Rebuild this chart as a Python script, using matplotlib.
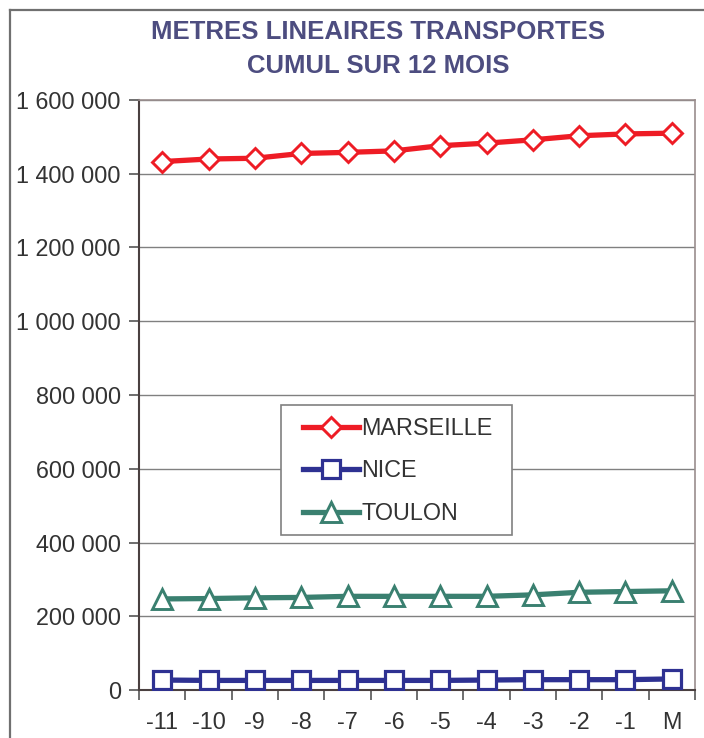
import matplotlib
matplotlib.use("Agg")
import matplotlib.pyplot as plt
from matplotlib.lines import Line2D
from matplotlib.patches import Rectangle

# ---- data ----
categories = ["-11", "-10", "-9", "-8", "-7", "-6", "-5", "-4", "-3", "-2", "-1", "M"]
marseille = [1433000, 1440000, 1442000, 1455000, 1458000, 1462000, 1476000,
             1483000, 1492000, 1503000, 1508000, 1510000]
nice = [27000, 26000, 26000, 26000, 26000, 26000, 26000, 27000, 28000, 28000, 28000, 30000]
toulon = [247000, 248000, 250000, 251000, 254000, 254000, 254000, 254000,
          258000, 265000, 267000, 269000]
y_ticks = [0, 200000, 400000, 600000, 800000, 1000000, 1200000, 1400000, 1600000]
y_tick_labels = ["0", "200 000", "400 000", "600 000", "800 000",
                 "1 000 000", "1 200 000", "1 400 000", "1 600 000"]
series_names = ["MARSEILLE", "NICE", "TOULON"]
title_lines = ["METRES LINEAIRES TRANSPORTES", "CUMUL SUR 12 MOIS"]

plt.rcParams['font.family'] = ['Liberation Sans', 'DejaVu Sans']

W, H = 704, 738
fig = plt.figure(figsize=(W / 100, H / 100), dpi=100)

# outer chart border (left and top visible)
fig.add_artist(Line2D([10 / W, 10 / W], [0, 1 - 10 / H], transform=fig.transFigure,
                      color="#707070", lw=1.6))
fig.add_artist(Line2D([10 / W, 1], [1 - 10 / H, 1 - 10 / H], transform=fig.transFigure,
                      color="#707070", lw=1.6))

left, right, top, bottom = 139, 695, 100, 690
ax = fig.add_axes([left / W, 1 - bottom / H, (right - left) / W, (bottom - top) / H])

x = list(range(len(categories)))
red = "#ee1c25"
blue = "#2e3192"
green = "#3a8070"
fs = 16.8

ax.plot(x, marseille, color=red, lw=3.8, marker="D", ms=10.5, mfc="white",
        mec=red, mew=2.1, label=series_names[0], zorder=3)
ax.plot(x, nice, color=blue, lw=3.8, marker="s", ms=13, mfc="white",
        mec=blue, mew=2.3, label=series_names[1], zorder=3)
ax.plot(x, toulon, color=green, lw=3.8, marker="^", ms=14.5, mfc="white",
        mec=green, mew=2.1, label=series_names[2], zorder=3)

ax.set_xlim(-0.5, len(categories) - 0.5)
ax.set_ylim(0, 1600000)
ax.set_yticks(y_ticks)
ax.set_yticklabels(y_tick_labels)
ax.set_xticks(x)
ax.set_xticklabels(categories)
ax.set_xticks([i - 0.5 for i in range(len(categories) + 1)], minor=True)
ax.tick_params(axis="x", which="major", length=0, pad=15, labelsize=fs, colors="#333333")
ax.tick_params(axis="x", which="minor", length=7, width=1.2, direction="out", color="#555555")
ax.tick_params(axis="y", length=7, width=1.2, direction="out", color="#555555",
               labelsize=fs, pad=6, labelcolor="#333333")

ax.yaxis.grid(True, color="#808080", lw=1.0)
ax.set_axisbelow(True)
for s in ["left", "bottom"]:
    ax.spines[s].set_color("#4a4040")
    ax.spines[s].set_linewidth(1.5)
for s in ["right", "top"]:
    ax.spines[s].set_color("#9a8e8e")
    ax.spines[s].set_linewidth(1.2)

# legend frame drawn as its own box
box = Rectangle((281 / W, 1 - 535 / H), (512 - 281) / W, (535 - 405) / H,
                transform=fig.transFigure, facecolor="white", edgecolor="#808080",
                lw=1.2, zorder=4.5, clip_on=False)
ax.add_artist(box)

leg = ax.legend(loc="upper left", bbox_to_anchor=((291 - left) / (right - left),
                                                   1 - (405 - top) / (bottom - top)),
                fontsize=fs, frameon=False,
                handlelength=2.4, handletextpad=0.1, labelspacing=0.84,
                borderpad=0.5, borderaxespad=0)
leg.set_zorder(5)
for t in leg.get_texts():
    t.set_color("#333333")

fig.text(378 / W, 1 - 32 / H, title_lines[0], ha="center", va="center",
         fontsize=18.5, fontweight="bold", color="#4d4d80")
fig.text(378 / W, 1 - 66 / H, title_lines[1], ha="center", va="center",
         fontsize=18.5, fontweight="bold", color="#4d4d80")

fig.savefig("out.png", dpi=100)
